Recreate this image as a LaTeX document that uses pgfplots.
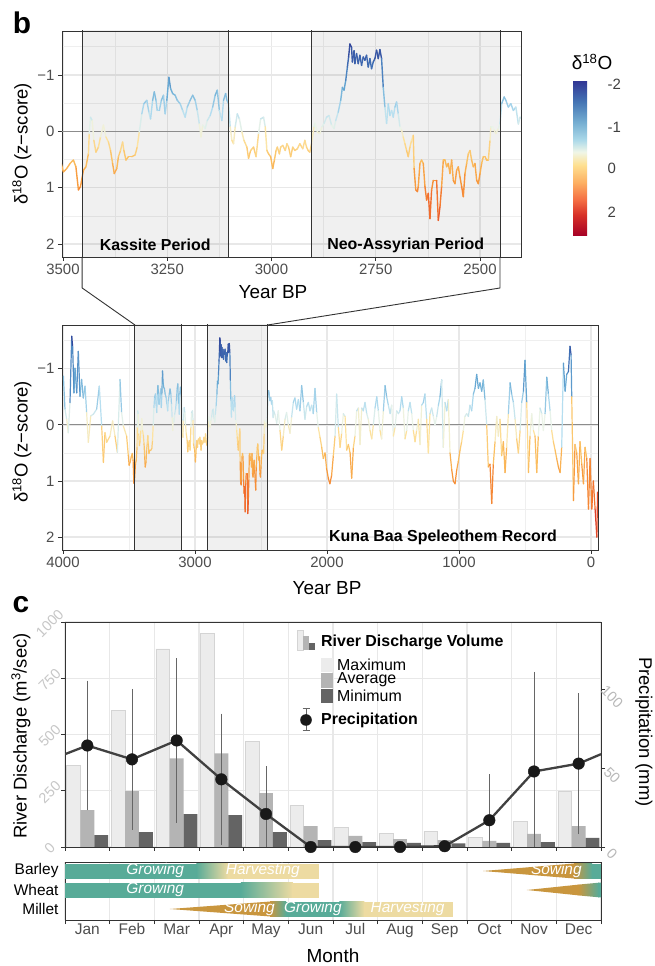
\documentclass[border=0pt]{standalone}
\usepackage{pgfplots}
\pgfplotsset{compat=1.18}
\usepackage{pgfplotstable}
\usepackage{fontspec}
\setmainfont{Liberation Sans}

\newcommand{\fs}[1]{\fontsize{#1}{#1}\selectfont}

\definecolor{cropteal}{RGB}{88,171,152}
\definecolor{cropbeige}{RGB}{237,219,162}
\definecolor{cropgold}{RGB}{201,150,62}
\definecolor{gridc}{RGB}{232,232,232}
\definecolor{framec}{RGB}{51,51,51}
\definecolor{tickc}{RGB}{77,77,77}
\definecolor{barmax}{RGB}{236,236,236}
\definecolor{baravg}{RGB}{180,180,180}
\definecolor{barmin}{RGB}{100,100,100}

\pgfplotsset{
  /pgf/number format/assume math mode=true,
  /pgf/number format/1000 sep={},
  colormap={dlines}{rgb255(0pt)=(40,40,140); rgb255(55pt)=(50,70,155); rgb255(90pt)=(65,115,183);
    rgb255(130pt)=(106,172,213); rgb255(170pt)=(181,222,240); rgb255(200pt)=(236,244,232);
    rgb255(220pt)=(253,227,160); rgb255(255pt)=(251,192,97); rgb255(295pt)=(247,150,58);
    rgb255(335pt)=(242,110,46); rgb255(385pt)=(220,58,41); rgb255(515pt)=(165,0,38)},
  colormap={dbar}{rgb255(0pt)=(165,0,38); rgb255(21pt)=(215,48,39); rgb255(36pt)=(244,109,67);
    rgb255(53pt)=(253,174,97); rgb255(71pt)=(254,224,144); rgb255(84pt)=(240,246,232);
    rgb255(96pt)=(171,217,233); rgb255(114pt)=(116,173,209); rgb255(134pt)=(69,117,180);
    rgb255(155pt)=(49,54,149)},
  dpanel/.style={
    scale only axis, anchor=south west,
    x dir=reverse, y dir=reverse,
    ymin=-1.78, ymax=2.23,
    ytick={-1,0,1,2}, yticklabels={−1,0,1,2},
    minor ytick={-1.5,-0.5,0.5,1.5},
    grid=both,
    major grid style={draw=gridc, line width=1.4bp},
    minor grid style={draw=gridc!70, line width=0.7bp},
    axis line style={draw=framec, line width=0.9bp},
    tick align=outside, xtick pos=left, ytick pos=left,
    major tick length=4bp, minor tick length=0bp,
    tick style={draw=framec, line width=0.9bp},
    tick label style={font=\fs{15}, text=tickc},
    colormap name=dlines, point meta min=-2.05, point meta max=3.1,
  },
}

% speleothem d18O z-scores, years BP
\pgfplotstableread[row sep=\\]{
yr v\\
3997 -0.87\\ 3985 -0.28\\ 3972 -0.10\\ 3960 0.14\\ 3947 -0.40\\ 3934 -1.58\\ 3927 -1.40\\ 3917 -0.57\\
3909 -1.01\\ 3896 -0.57\\ 3884 -1.31\\ 3871 -0.51\\ 3859 -0.81\\ 3846 -0.48\\ 3833 -0.69\\ 3821 -0.22\\
3808 0.31\\ 3790 -0.16\\ 3770 -0.19\\ 3745 -0.28\\ 3725 -0.69\\ 3707 0.02\\ 3694 0.67\\ 3682 0.14\\
3669 0.31\\ 3644 0.20\\ 3624 -0.07\\ 3606 0.20\\ 3588 0.49\\ 3568 -0.81\\ 3556 -0.22\\ 3543 0.02\\
3518 0.20\\ 3505 0.55\\
3499 0.72\\ 3491 0.66\\ 3483 0.57\\ 3475 0.51\\ 3469 0.63\\ 3463 1.04\\ 3458 0.98\\ 3451 0.69\\
3445 0.63\\ 3439 0.40\\ 3437 0.04\\ 3434 -0.25\\ 3430 -0.19\\ 3426 0.16\\ 3421 0.37\\ 3415 0.28\\
3410 0.10\\ 3403 -0.11\\ 3397 0.10\\ 3391 0.19\\ 3386 0.34\\ 3381 0.57\\ 3377 0.75\\ 3371 0.66\\
3367 0.45\\ 3362 0.34\\ 3357 0.19\\ 3354 0.34\\ 3349 0.51\\ 3343 0.45\\ 3335 0.45\\ 3327 0.42\\
3322 0.28\\ 3317 0.01\\ 3311 -0.31\\ 3306 -0.49\\ 3299 -0.55\\ 3294 -0.34\\ 3290 -0.22\\ 3285 -0.55\\
3281 -0.70\\ 3277 -0.55\\ 3274 -0.37\\ 3269 -0.37\\ 3264 -0.55\\ 3259 -0.64\\ 3255 -0.31\\ 3251 -0.55\\
3246 -0.96\\ 3242 -0.76\\ 3237 -0.67\\ 3231 -0.64\\ 3226 -0.55\\ 3219 -0.49\\ 3213 -0.37\\ 3207 -0.25\\
3202 -0.43\\ 3195 -0.55\\ 3189 -0.64\\ 3183 -0.55\\ 3178 -0.37\\ 3173 -0.13\\ 3169 0.10\\ 3165 -0.11\\
3159 -0.05\\ 3154 -0.19\\ 3147 -0.28\\ 3141 -0.43\\ 3135 -0.64\\ 3130 -0.73\\ 3125 -0.37\\ 3119 -0.19\\
3115 -0.55\\ 3110 -0.67\\ 3107 -0.55\\ 3103 -0.49\\ 3099 -0.08\\ 3095 0.16\\ 3091 0.22\\ 3087 -0.08\\
3082 -0.31\\ 3077 -0.22\\ 3071 0.01\\ 3066 0.16\\ 3059 0.28\\ 3055 0.48\\ 3050 0.34\\ 3043 0.28\\
3037 0.45\\ 3031 0.04\\ 3026 -0.22\\ 3019 -0.25\\ 3015 -0.08\\ 3011 0.34\\ 3007 0.40\\ 3002 0.45\\
2997 0.66\\ 2993 0.51\\ 2989 0.34\\ 2986 0.28\\ 2981 0.40\\ 2978 0.28\\ 2973 0.25\\ 2967 0.34\\
2963 0.22\\ 2959 0.28\\ 2954 0.45\\ 2949 0.28\\ 2944 0.34\\ 2938 0.31\\ 2932 0.22\\ 2925 0.31\\
2920 0.16\\ 2916 0.28\\ 2912 0.34\\ 2908 0.37\\ 2904 0.22\\ 2898 -0.08\\
2896 -0.14\\ 2890 0.01\\ 2884 0.04\\ 2879 -0.08\\ 2874 -0.14\\ 2868 -0.25\\ 2862 -0.28\\ 2856 -0.11\\
2850 -0.05\\ 2846 -0.19\\ 2840 -0.34\\ 2834 -0.55\\ 2830 -0.78\\ 2826 -0.73\\ 2822 -0.90\\ 2818 -1.14\\
2815 -1.32\\ 2812 -1.55\\ 2808 -1.49\\ 2806 -1.23\\ 2802 -1.43\\ 2800 -1.20\\ 2796 -1.38\\ 2792 -1.20\\
2788 -1.35\\ 2784 -1.17\\ 2780 -1.32\\ 2776 -1.26\\ 2772 -1.35\\ 2768 -1.14\\ 2764 -1.29\\ 2760 -1.11\\
2756 -1.23\\ 2752 -1.29\\ 2748 -1.44\\ 2744 -1.29\\ 2740 -1.45\\ 2736 -1.29\\ 2732 -0.78\\ 2728 -0.43\\
2724 -0.14\\ 2720 -0.49\\ 2716 -0.28\\ 2712 -0.37\\ 2708 -0.25\\ 2704 -0.43\\ 2700 -0.52\\ 2696 -0.31\\
2692 -0.08\\ 2688 -0.02\\ 2684 0.10\\ 2680 0.22\\ 2676 0.34\\ 2672 0.45\\ 2668 0.28\\ 2664 0.16\\
2660 0.07\\ 2658 0.66\\ 2654 1.04\\ 2650 1.07\\ 2648 0.98\\ 2644 0.57\\ 2640 0.51\\ 2636 0.57\\
2632 0.98\\ 2628 1.22\\ 2624 1.10\\ 2620 1.55\\ 2616 1.04\\ 2612 0.87\\ 2608 0.87\\ 2604 0.87\\
2600 1.58\\ 2596 1.34\\ 2592 0.98\\ 2588 0.51\\ 2584 0.51\\ 2580 0.63\\ 2576 0.57\\ 2572 0.75\\
2568 0.51\\ 2564 0.87\\ 2560 0.93\\ 2556 0.69\\ 2552 0.63\\ 2548 0.81\\ 2544 0.98\\ 2540 1.16\\
2536 0.75\\ 2532 0.57\\ 2528 0.40\\ 2524 0.34\\ 2520 0.51\\ 2516 0.63\\ 2512 0.57\\ 2508 0.87\\
2504 0.93\\ 2500 0.75\\ 2496 0.57\\ 2492 0.45\\ 2488 0.45\\ 2484 0.51\\ 2480 0.51\\ 2476 0.16\\
2474 -0.08\\ 2470 -0.08\\ 2466 -0.02\\ 2462 0.04\\ 2456 -0.05\\ 2452 -0.13\\ 2448 -0.49\\ 2442 -0.61\\
2438 -0.55\\ 2432 -0.43\\ 2426 -0.49\\ 2420 -0.37\\ 2414 -0.43\\ 2408 -0.13\\ 2404 -0.25\\
2394 -0.18\\ 2381 -0.03\\ 2369 -0.25\\ 2356 0.10\\ 2343 0.45\\ 2331 0.20\\ 2318 -0.10\\ 2306 -0.22\\
2293 0.00\\ 2280 0.15\\ 2268 -0.14\\ 2255 -0.40\\ 2243 -0.48\\ 2230 -0.28\\ 2217 -0.45\\ 2205 -0.25\\
2192 -0.70\\ 2179 -0.40\\ 2167 -0.10\\ 2154 -0.33\\ 2141 -0.40\\ 2129 -0.25\\ 2116 -0.35\\ 2104 -0.20\\
2091 -0.65\\ 2078 -0.22\\ 2066 0.05\\ 2053 0.22\\ 2040 0.40\\ 2028 0.60\\ 2015 0.50\\ 2003 0.78\\
1990 0.95\\ 1978 1.05\\ 1965 0.90\\ 1952 0.55\\ 1939 0.20\\ 1927 -0.55\\ 1914 0.05\\ 1901 0.40\\
1889 0.15\\ 1876 -0.20\\ 1863 -0.15\\ 1851 0.45\\ 1838 0.35\\ 1825 0.50\\ 1813 0.95\\ 1800 0.40\\
1788 0.20\\ 1775 -0.25\\ 1762 -0.30\\ 1750 0.35\\ 1737 -0.30\\ 1725 -0.25\\ 1712 -0.40\\ 1699 -0.20\\
1687 -0.10\\ 1674 0.10\\ 1661 0.25\\ 1649 0.00\\ 1636 -0.30\\ 1623 -0.50\\ 1611 -0.25\\ 1598 0.10\\
1586 0.25\\ 1573 -0.25\\ 1560 -0.70\\ 1548 -0.50\\ 1535 -0.35\\ 1522 -0.20\\ 1510 -0.35\\ 1497 0.20\\
1485 0.05\\ 1472 -0.25\\ 1459 -0.20\\ 1447 -0.25\\ 1434 -0.50\\ 1422 -0.30\\ 1409 0.25\\ 1396 0.10\\
1384 -0.25\\ 1371 -0.40\\ 1358 -0.20\\ 1346 0.10\\ 1333 0.30\\ 1321 0.10\\ 1308 -0.10\\ 1295 0.35\\
1283 -0.35\\ 1270 -0.40\\ 1258 -0.55\\ 1245 -0.10\\ 1232 0.50\\ 1220 -0.20\\ 1207 -0.30\\ 1194 -0.15\\
1182 0.00\\ 1169 -0.15\\ 1156 -0.35\\ 1144 -0.50\\ 1131 -0.80\\ 1119 0.40\\ 1106 -0.40\\ 1093 -0.25\\
1081 -0.45\\ 1068 0.50\\ 1055 0.80\\ 1043 1.00\\ 1030 1.05\\ 1017 0.80\\ 1005 0.65\\ 992 0.45\\
980 0.30\\ 967 0.10\\ 955 -0.15\\ 942 -0.20\\ 929 -0.15\\ 917 -0.35\\ 904 -0.25\\ 891 -0.55\\
879 -0.65\\ 866 -0.90\\ 853 -0.65\\ 841 -0.75\\ 828 -0.60\\ 816 -0.80\\ 803 -0.45\\ 790 0.00\\
778 0.75\\ 765 0.70\\ 752 1.40\\ 740 0.70\\ 727 0.30\\ 714 -0.15\\ 702 0.20\\ 689 -0.10\\
677 0.55\\ 664 0.30\\ 651 0.85\\ 639 0.40\\ 626 -0.20\\ 613 -0.75\\ 601 -0.55\\ 588 -0.40\\
575 -0.10\\ 563 0.25\\ 550 0.50\\ 537 0.10\\ 525 -0.40\\ 512 -0.60\\ 500 -1.15\\ 487 -0.40\\
474 0.85\\ 462 0.20\\ 449 -0.20\\ 436 0.10\\ 424 0.20\\ 411 0.85\\ 399 0.20\\ 386 -0.30\\
373 -0.20\\ 361 0.10\\ 348 -0.20\\ 335 -0.85\\ 323 -0.55\\ 310 -0.25\\ 298 0.10\\ 285 0.30\\
272 0.45\\ 260 0.60\\ 247 0.75\\ 234 0.85\\ 222 0.40\\ 209 -1.10\\ 196 -0.60\\ 184 -0.90\\
171 -0.95\\ 159 -1.40\\ 151 -1.25\\ 146 -0.50\\ 133 1.35\\ 121 0.35\\ 108 0.50\\ 95 1.05\\
83 0.30\\ 70 0.70\\ 57 1.05\\ 45 0.40\\ 32 0.60\\ 19 1.50\\ 7 0.60\\ -6 1.50\\
-18 1.00\\ -31 1.50\\ -44 2.00\\ -50 1.20\\
}\dseries

% river discharge (m3/s) by month
\pgfplotstableread{
m   max  avg  min
1   363  164  53
2   606  248  66
3   880  394  146
4   951  416  142
5   469  239  66
6   186  93   31
7   88   49   22
8   62   35   18
9   71   31   16
10  44   27   18
11  115  58   22
12  248  93   40
}\discharge

% precipitation (mm) and error
\pgfplotstableread{
m   p     e
1   64.5  39
2   55.7  42.5
3   67.7  50
4   43    39.5
5   21    28
6   0     0
7   0     0
8   0     0
9   0.5   0
10  17    27
11  48    61
12  53    42.5
}\precip

\begin{document}
\begin{tikzpicture}
\fill[white] (0,0) rectangle (655bp,966bp);
\useasboundingbox (0,0) rectangle (655bp,966bp);

% ---------- panel b, zoomed ----------
\begin{axis}[dpanel, at={(62bp,709bp)}, width=459bp, height=226bp,
  xmin=2401.7, xmax=3502.4,
  xtick={2500,2750,3000,3250,3500}, minor xtick={2625,2875,3125,3375}]
\addplot[fill=black, fill opacity=0.06, draw=none] coordinates {(3454,-3) (3104,-3) (3104,3) (3454,3)};
\addplot[fill=black, fill opacity=0.06, draw=none] coordinates {(2903,-3) (2452,-3) (2452,3) (2903,3)};
\addplot[black!45, line width=0.9bp] coordinates {(2000,0) (4000,0)};
\addplot[mesh, point meta=y, line width=1.4bp, line cap=round] table[x=yr, y=v] {\dseries};
\addplot[framec, line width=0.9bp] coordinates {(3454,-3) (3454,3)};
\addplot[framec, line width=0.9bp] coordinates {(3104,-3) (3104,3)};
\addplot[framec, line width=0.9bp] coordinates {(2903,-3) (2903,3)};
\addplot[framec, line width=0.9bp] coordinates {(2452,-3) (2452,3)};
\node[font=\bfseries\fs{16}] at (axis cs:3279,2.02) {Kassite Period};
\node[font=\bfseries\fs{16}] at (axis cs:2678,2.02) {Neo-Assyrian Period};
\coordinate (tL) at (axis cs:3454,2.23);
\coordinate (tR) at (axis cs:2452,2.23);
\end{axis}

% ---------- panel b, full record ----------
\begin{axis}[dpanel, at={(62bp,416bp)}, width=536bp, height=225bp,
  xmin=-53, xmax=4007.6,
  xtick={0,1000,2000,3000,4000}, minor xtick={500,1500,2500,3500}]
\addplot[fill=black, fill opacity=0.06, draw=none] coordinates {(3455,-3) (3100,-3) (3100,3) (3455,3)};
\addplot[fill=black, fill opacity=0.06, draw=none] coordinates {(2902,-3) (2450,-3) (2450,3) (2902,3)};
\addplot[black!45, line width=0.9bp] coordinates {(-200,0) (4200,0)};
\addplot[mesh, point meta=y, line width=1.2bp, line cap=round] table[x=yr, y=v] {\dseries};
\addplot[framec, line width=0.9bp] coordinates {(3455,-3) (3455,3)};
\addplot[framec, line width=0.9bp] coordinates {(3100,-3) (3100,3)};
\addplot[framec, line width=0.9bp] coordinates {(2902,-3) (2902,3)};
\addplot[framec, line width=0.9bp] coordinates {(2450,-3) (2450,3)};
\node[font=\bfseries\fs{16}] at (axis cs:1121,2.0) {Kuna Baa Speleothem Record};
\coordinate (mL) at (axis cs:3455,-1.78);
\coordinate (mR) at (axis cs:2450,-1.78);
\end{axis}

\draw[framec, line width=0.9bp] (tL) -- ++(0,-31bp) -- (mL);
\draw[framec, line width=0.9bp] (tR) -- ++(0,-31bp) -- (mR);

% colour key
\begin{axis}[at={(573bp,885bp)}, anchor=north west, scale only axis, width=0pt, height=0pt,
  hide axis, xmin=0, xmax=1, ymin=0, ymax=1,
  colormap name=dbar, point meta min=0, point meta max=155,
  colorbar, colorbar shift/.style={},
  colorbar style={at={(parent axis.north west)}, anchor=north west,
    scale only axis, width=31bp, height=155bp,
    ytick={24,68,109,151.5}, yticklabels={2,0,-1,-2},
    major tick length=0pt, axis line style={draw=none},
    yticklabel style={font=\fs{15}, text=black!75}}]
\addplot[draw=none] coordinates {(0.5,0.5)};
\end{axis}

\node[font=\bfseries\fs{30}] at (22bp,943bp) {b};
\node[rotate=90, font=\fs{18.5}] at (22bp,822bp) {δ\textsuperscript{18}O (z−score)};
\node[rotate=90, font=\fs{18.5}] at (22bp,524bp) {δ\textsuperscript{18}O (z−score)};
\node[font=\fs{19}] at (273bp,674bp) {Year BP};
\node[font=\fs{19}] at (327bp,378bp) {Year BP};
\node[font=\fs{19}] at (592bp,904bp) {δ\textsuperscript{18}O};

% ---------- panel c, discharge ----------
\begin{axis}[at={(65bp,119bp)}, anchor=south west, scale only axis, width=536bp, height=225bp,
  xmin=0.5, xmax=12.5, ymin=0, ymax=1000,
  xtick={0.5,1.5,...,12.5}, xticklabels={},
  ytick={0,250,500,750,1000},
  grid=major, major grid style={draw=gridc, line width=1.4bp},
  axis line style={draw=framec, line width=0.9bp},
  tick align=outside, xtick pos=left, ytick pos=left, major tick length=4bp,
  tick style={draw=framec, line width=0.9bp},
  yticklabel style={font=\fs{14.5}, text=black!22, rotate=45, anchor=center, xshift=-9bp, yshift=7bp}]
\addplot[ybar, bar width=0.31, bar shift=-0.31, fill=barmax, draw=black!17, line width=0.6bp] table[x=m, y=max] {\discharge};
\addplot[ybar, bar width=0.31, bar shift=0, fill=baravg, draw=none] table[x=m, y=avg] {\discharge};
\addplot[ybar, bar width=0.31, bar shift=0.31, fill=barmin, draw=none] table[x=m, y=min] {\discharge};
\end{axis}

% ---------- panel c, precipitation ----------
\begin{axis}[at={(65bp,119bp)}, anchor=south west, scale only axis, width=536bp, height=225bp,
  xmin=0.5, xmax=12.5, ymin=0, ymax=143,
  axis y line*=right, axis x line=none,
  ytick={0,50,100}, tick align=outside, major tick length=4bp,
  axis line style={draw=framec, line width=0.9bp},
  tick style={draw=framec, line width=0.9bp},
  yticklabel style={font=\fs{14.5}, text=black!28, rotate=-45, anchor=center, xshift=10bp}]
\addplot[black!75, line width=2.3bp] coordinates {(0.5,59) (1,64.5) (2,55.7) (3,67.7) (4,43) (5,21) (6,0) (7,0) (8,0) (9,0.5) (10,17) (11,48) (12,53) (12.5,59)};
\addplot[only marks, mark=*, mark size=5.8bp, mark options={fill=black!90, draw=black!90},
  error bars/.cd, y dir=both, y explicit,
  error bar style={black!60, line width=1bp},
  error mark options={black!60, line width=1bp, mark size=3.6bp}]
  table[x=m, y=p, y error=e] {\precip};
\end{axis}

% legend of panel c
\fill[barmax, draw=black!17, line width=0.5bp] (297bp,316bp) rectangle (303bp,336bp);
\fill[baravg] (303bp,316bp) rectangle (309bp,330bp);
\fill[barmin] (309bp,316bp) rectangle (315bp,323bp);
\node[anchor=west, font=\bfseries\fs{16}, inner sep=0pt] at (321bp,324bp) {River Discharge Volume};
\fill[barmax] (321bp,294bp) rectangle (333bp,308bp);
\fill[baravg] (321bp,278bp) rectangle (333bp,293bp);
\fill[barmin] (321bp,263bp) rectangle (333bp,277bp);
\node[anchor=west, font=\fs{16}, inner sep=0pt] at (337bp,301bp) {Maximum};
\node[anchor=west, font=\fs{16}, inner sep=0pt] at (337bp,286bp) {Average};
\node[anchor=west, font=\fs{16}, inner sep=0pt] at (337bp,270bp) {Minimum};
\draw[black!60, line width=1bp] (306bp,235bp) -- (306bp,257bp) (302.5bp,235bp) -- (309.5bp,235bp) (302.5bp,257bp) -- (309.5bp,257bp);
\fill[black!90] (306bp,246bp) circle (5.8bp);
\node[anchor=west, font=\bfseries\fs{16}, inner sep=0pt] at (321bp,246bp) {Precipitation};

\node[font=\bfseries\fs{30}] at (21bp,361bp) {c};
\node[rotate=90, font=\fs{18.5}] at (21bp,230bp) {River Discharge (m\textsuperscript{3}/sec)};
\node[rotate=-90, font=\fs{18.5}] at (644bp,234bp) {Precipitation (mm)};

% ---------- crop calendar ----------
\begin{axis}[at={(65bp,46bp)}, anchor=south west, scale only axis, width=536bp, height=58bp,
  xmin=0.5, xmax=12.5, ymin=0, ymax=58,
  xtick={1,...,12}, xticklabels={Jan,Feb,Mar,Apr,May,Jun,Jul,Aug,Sep,Oct,Nov,Dec},
  minor xtick={0.5,1.5,...,12.5},
  xminorgrids=true, minor grid style={draw=gridc, line width=1.4bp},
  ytick={11,30,49}, yticklabels={Millet,Wheat,Barley},
  major tick length=0pt, minor tick length=4bp, tick align=outside,
  xtick pos=left, ytick pos=left,
  axis line style={draw=framec, line width=0.9bp},
  tick style={draw=framec, line width=0.9bp},
  xticklabel style={font=\fs{15.5}, text=tickc},
  yticklabel style={font=\fs{15.5}, text=black, xshift=-3bp}]
% barley
\addplot[fill=cropteal, draw=none] coordinates {(0.5,41.5) (3.45,41.5) (3.45,56.5) (0.5,56.5)};
\addplot[draw=none, left color=cropteal, right color=cropbeige] coordinates {(3.44,41.5) (4.15,41.5) (4.15,56.5) (3.44,56.5)};
\addplot[fill=cropbeige, draw=none] coordinates {(4.14,41.5) (6.19,41.5) (6.19,56.5) (4.14,56.5)};
\addplot[fill=cropgold, draw=none] coordinates {(9.86,49) (11.9,56.5) (11.9,41.5)};
\addplot[draw=none, left color=cropgold, right color=cropteal] coordinates {(11.89,41.5) (12.3,41.5) (12.3,56.5) (11.89,56.5)};
\addplot[fill=cropteal, draw=none] coordinates {(12.29,41.5) (12.5,41.5) (12.5,56.5) (12.29,56.5)};
% wheat
\addplot[fill=cropteal, draw=none] coordinates {(0.5,22.5) (4.45,22.5) (4.45,37.5) (0.5,37.5)};
\addplot[draw=none, left color=cropteal, right color=cropbeige] coordinates {(4.44,22.5) (5.6,22.5) (5.6,37.5) (4.44,37.5)};
\addplot[fill=cropbeige, draw=none] coordinates {(5.59,22.5) (6.19,22.5) (6.19,37.5) (5.59,37.5)};
\addplot[fill=cropgold, draw=none] coordinates {(10.84,30) (12.0,35.4) (12.0,24.6)};
\addplot[draw=none, left color=cropgold, right color=cropteal] coordinates {(11.99,24.6) (12.45,22.7) (12.45,37.3) (11.99,35.4)};
\addplot[fill=cropteal, draw=none] coordinates {(12.44,22.7) (12.5,22.5) (12.5,37.5) (12.44,37.3)};
% millet
\addplot[fill=cropgold, draw=none] coordinates {(2.85,11) (5.1,18.5) (5.1,3.5)};
\addplot[draw=none, left color=cropgold, right color=cropteal] coordinates {(5.09,3.5) (5.45,3.5) (5.45,18.5) (5.09,18.5)};
\addplot[fill=cropteal, draw=none] coordinates {(5.44,3.5) (6.65,3.5) (6.65,18.5) (5.44,18.5)};
\addplot[draw=none, left color=cropteal, right color=cropbeige] coordinates {(6.64,3.5) (7.2,3.5) (7.2,18.5) (6.64,18.5)};
\addplot[fill=cropbeige, draw=none] coordinates {(7.19,3.5) (9.19,3.5) (9.19,18.5) (7.19,18.5)};
\node[font=\itshape\fs{15.5}, text=white] at (axis cs:2.52,49) {Growing};
\node[font=\itshape\fs{15.5}, text=white] at (axis cs:4.93,49) {Harvesting};
\node[font=\itshape\fs{15.5}, text=white] at (axis cs:11.5,49) {Sowing};
\node[font=\itshape\fs{15.5}, text=white] at (axis cs:2.52,30) {Growing};
\node[font=\itshape\fs{15.5}, text=white] at (axis cs:4.63,11) {Sowing};
\node[font=\itshape\fs{15.5}, text=white] at (axis cs:6.05,11) {Growing};
\node[font=\itshape\fs{15.5}, text=white] at (axis cs:8.17,11) {Harvesting};
\end{axis}
\node[font=\fs{19}] at (333bp,10bp) {Month};

\end{tikzpicture}
\end{document}
